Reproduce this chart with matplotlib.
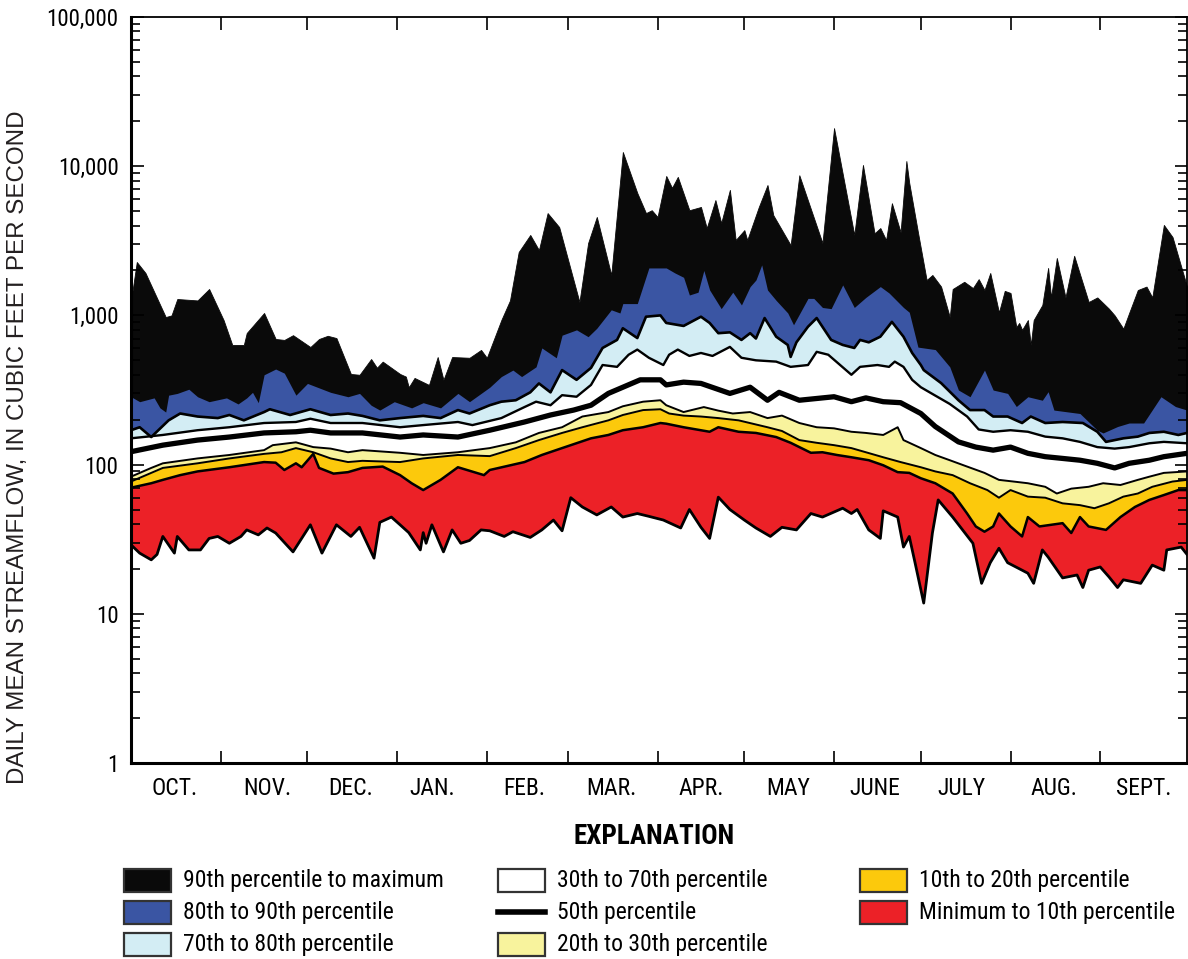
import matplotlib
matplotlib.use("Agg")
import matplotlib.pyplot as plt
import matplotlib.ticker as ticker
from matplotlib.patches import Rectangle
from matplotlib.lines import Line2D

plt.rcParams['font.family'] = ['Roboto Condensed', 'Liberation Sans Narrow', 'Roboto', 'DejaVu Sans']

# Daily streamflow percentiles, day of water year (0 = Oct 1) and cfs
max_day = [0, 2, 5, 12, 14, 16, 23, 27, 32, 35, 39, 40, 46, 50, 53, 56, 62, 65, 68, 71,
           76, 79, 83, 85, 87, 93, 95, 96, 98, 103, 106, 108, 111, 117, 121, 123, 128, 131, 134, 138,
           141, 144, 148, 155, 158, 161, 166, 170, 175, 178, 180, 182, 185, 187, 189, 193, 197, 199, 202, 204,
           207, 209, 212, 213, 217, 220, 222, 228, 231, 239, 243, 250, 253, 257, 259, 261, 263, 266, 268, 269,
           272, 275, 277, 280, 283, 284, 288, 291, 293, 295, 297, 300, 302, 304, 306, 307, 308, 310, 311, 312,
           315, 317, 318, 320, 323, 326, 331, 334, 338, 340, 343, 345, 348, 351, 353, 357, 360, 365]
max_cfs = [1250, 2280, 1925, 975, 1000, 1288, 1260, 1503, 931, 634, 634, 762, 1038, 695, 685, 737, 614, 695, 730, 705,
           405, 400, 510, 446, 490, 405, 389, 330, 381, 342, 526, 370, 526, 520, 587, 520, 931, 1260, 2660, 3460,
           2740, 4850, 3910, 1230, 3055, 4570, 1866, 12450, 6610, 4850, 5070, 4570, 8600, 7160, 8480, 5070, 5330, 3850, 5930, 4160,
           6940, 3200, 3730, 3200, 5330, 7480, 4700, 2960, 8700, 3055, 18000, 3460, 10190, 3550, 3850, 3200, 5650, 3610, 10830, 7710,
           3610, 1727, 1866, 1560, 975, 1503, 1680, 1525, 1750, 1480, 1925, 1047, 1460, 1414, 836, 890, 800, 931, 634, 931,
           1175, 2080, 1320, 2425, 1320, 2510, 1230, 1320, 1110, 1000, 815, 1038, 1480, 1560, 1320, 4040, 3350, 1560]

p90_day = [0, 3, 8, 10, 12, 13, 16, 20, 23, 27, 33, 37, 40, 42, 44, 46, 50, 53, 57, 61,
           69, 75, 79, 83, 86, 91, 97, 101, 107, 113, 117, 124, 128, 132, 135, 140, 142, 147, 149, 154,
           158, 161, 166, 169, 170, 175, 179, 185, 188, 191, 193, 196, 198, 200, 204, 208, 211, 214, 216, 218,
           220, 223, 227, 229, 234, 236, 239, 242, 246, 250, 254, 259, 262, 267, 269, 272, 278, 283, 286, 290,
           295, 298, 303, 306, 310, 315, 317, 319, 328, 334, 336, 341, 345, 350, 356, 361, 365]
p90_cfs = [285, 264, 280, 240, 225, 292, 300, 320, 285, 264, 280, 255, 280, 305, 260, 400, 437, 410, 292, 350,
           305, 285, 300, 250, 232, 264, 240, 260, 240, 300, 264, 330, 389, 430, 389, 452, 605, 520, 737, 800,
           720, 820, 1090, 1038, 1200, 1200, 2080, 2080, 1925, 1800, 1370, 1430, 2000, 1480, 1110, 1430, 1175, 1560, 1727, 2180,
           1480, 1260, 1038, 865, 1300, 1300, 1130, 1110, 1600, 1130, 1320, 1560, 1414, 1130, 1050, 613, 590, 452, 316, 285,
           430, 316, 300, 245, 285, 270, 308, 232, 220, 170, 163, 180, 190, 190, 285, 245, 232]

p80_day = [0, 3, 7, 13, 17, 23, 30, 34, 39, 46, 48, 55, 62, 69, 75, 80, 86, 93, 101, 107,
           113, 117, 124, 128, 133, 138, 141, 145, 149, 154, 159, 163, 168, 170, 175, 178, 183, 185, 191, 197,
           200, 203, 207, 211, 214, 216, 219, 223, 227, 228, 230, 234, 237, 242, 246, 250, 252, 255, 259, 263,
           267, 270, 273, 274, 280, 286, 290, 295, 298, 303, 308, 311, 316, 322, 329, 334, 337, 343, 348, 352,
           357, 362, 365]
p80_cfs = [170, 178, 153, 198, 220, 210, 205, 215, 198, 225, 235, 215, 235, 215, 220, 212, 198, 205, 212, 205,
           232, 220, 250, 264, 270, 305, 350, 305, 430, 370, 445, 605, 685, 820, 705, 980, 1000, 890, 850, 980,
           890, 760, 770, 685, 760, 700, 960, 720, 634, 527, 660, 840, 960, 685, 634, 605, 685, 660, 720, 905,
           720, 560, 465, 430, 352, 270, 232, 232, 210, 210, 190, 210, 190, 193, 190, 166, 142, 150, 154, 163,
           166, 158, 163]

p70_day = [0, 11, 23, 34, 46, 57, 62, 69, 80, 93, 101, 113, 118, 128, 136, 140, 145, 149, 154, 159,
           163, 168, 172, 175, 179, 184, 186, 189, 193, 197, 201, 207, 211, 216, 223, 228, 234, 237, 241, 249,
           252, 258, 262, 264, 267, 270, 273, 278, 283, 289, 293, 298, 304, 310, 316, 322, 328, 334, 340, 345,
           352, 357, 365]
p70_cfs = [150, 158, 170, 178, 190, 193, 203, 190, 190, 178, 184, 193, 184, 205, 243, 264, 250, 292, 285, 342,
           465, 452, 545, 590, 520, 465, 545, 590, 535, 560, 535, 615, 520, 500, 490, 452, 465, 570, 545, 400,
           452, 465, 452, 490, 452, 370, 330, 290, 255, 210, 172, 166, 170, 166, 154, 150, 142, 131, 128, 131,
           139, 142, 139]

p50_day = [0, 11, 23, 34, 46, 57, 62, 69, 80, 93, 101, 113, 124, 136, 145, 153, 159, 165, 170, 176,
           183, 185, 191, 197, 207, 214, 220, 224, 231, 243, 249, 254, 260, 266, 273, 278, 286, 292, 298, 304,
           310, 316, 322, 328, 334, 340, 345, 352, 357, 365]
p50_cfs = [122, 135, 146, 153, 163, 166, 170, 163, 163, 153, 158, 153, 170, 193, 215, 232, 250, 300, 330, 370,
           370, 342, 357, 350, 300, 330, 270, 305, 270, 285, 264, 280, 264, 260, 220, 180, 142, 131, 125, 131,
           119, 113, 110, 107, 102, 95, 102, 107, 113, 119]

p30_day = [0, 7, 11, 23, 34, 46, 49, 57, 63, 69, 75, 80, 93, 101, 113, 124, 133, 141, 149, 156,
           165, 170, 177, 183, 185, 191, 198, 203, 208, 214, 220, 225, 231, 237, 243, 249, 254, 260, 265, 267,
           273, 278, 283, 289, 295, 300, 305, 310, 316, 320, 325, 331, 336, 342, 348, 352, 357, 365]
p30_cfs = [83, 95, 102, 110, 116, 125, 135, 141, 131, 128, 121, 125, 120, 116, 121, 129, 141, 163, 178, 210,
           225, 246, 264, 270, 250, 225, 243, 230, 220, 225, 205, 213, 190, 178, 175, 166, 163, 158, 178, 146,
           129, 116, 107, 97, 88, 79, 77, 75, 71, 64, 69, 71, 75, 73, 79, 83, 88, 90]

p20_day = [0, 7, 11, 23, 34, 46, 52, 57, 63, 69, 75, 80, 93, 101, 113, 124, 133, 141, 149, 156,
           165, 170, 177, 183, 186, 191, 197, 203, 210, 220, 225, 231, 237, 243, 249, 254, 260, 266, 273, 278,
           284, 290, 296, 300, 304, 310, 316, 322, 328, 333, 338, 343, 348, 353, 360, 365]
p20_cfs = [77, 88, 95, 102, 110, 118, 121, 129, 121, 110, 104, 106, 104, 110, 116, 114, 129, 146, 163, 178,
           198, 215, 232, 235, 220, 213, 210, 205, 198, 178, 168, 146, 140, 135, 129, 121, 112, 104, 96, 90,
           85, 75, 67.5, 60, 67.5, 61, 60, 55, 53.5, 51, 55, 61, 64, 71, 77, 79]

p10_day = [0, 7, 11, 17, 23, 34, 46, 50, 53, 57, 59, 63, 65, 70, 75, 80, 87, 93, 97, 101,
           107, 113, 122, 124, 136, 142, 149, 159, 165, 170, 177, 183, 185, 191, 200, 203, 210, 216, 223, 228,
           235, 239, 244, 249, 255, 260, 265, 269, 273, 278, 284, 289, 292, 295, 298, 300, 304, 308, 310, 314,
           322, 325, 328, 331, 337, 342, 347, 352, 357, 362, 365]
p10_cfs = [70, 75, 79, 85, 90, 96, 104, 103, 92, 102, 96, 118, 95, 87, 89, 95, 97, 85, 75, 67.5,
           79, 96, 85, 92, 104, 116, 129, 150, 158, 170, 178, 190, 188, 178, 166, 178, 166, 163, 153, 140,
           120, 121, 116, 112, 107, 99, 89, 88, 81, 75, 64, 47, 38.5, 35.5, 38.5, 47, 38.5, 33, 44.5, 38.5,
           40.5, 34.8, 44.5, 38.5, 36.5, 44.5, 52, 58, 62.5, 67.5, 67.5]

min_day = [0, 3, 7, 9, 11, 15, 16, 20, 24, 27, 30, 34, 38, 40, 44, 47, 50, 56, 62, 66,
           71, 76, 79, 84, 86, 90, 93, 96, 100, 101, 102, 104, 108, 111, 114, 117, 121, 124, 129, 132,
           138, 142, 146, 149, 152, 156, 161, 166, 170, 175, 179, 184, 190, 193, 197, 200, 203, 207, 212, 216,
           221, 225, 230, 235, 239, 246, 249, 251, 255, 259, 260, 265, 267, 269, 271, 274, 277, 279, 284, 291,
           294, 297, 300, 303, 308, 310, 312, 315, 317, 322, 327, 329, 331, 335, 338, 341, 343, 349, 353, 357,
           358, 363, 365]
min_cfs = [29, 25.5, 23, 25, 33, 25.5, 33, 26.8, 26.8, 32, 33, 29.7, 33, 36.5, 33.8, 37.6, 34.8, 26, 39.5, 25.5,
           39.5, 33, 38, 23.6, 41, 44.5, 39.5, 35, 26.8, 35, 29.7, 39.5, 26, 36.5, 29.7, 31, 36.5, 36, 33, 35.5,
           32.5, 36.5, 42.5, 36, 60, 52, 46, 52, 44.5, 47, 45, 42.5, 37.6, 50, 38, 32, 60.5, 50, 42.5, 37.6,
           33, 38, 36.5, 47, 44.5, 51, 47, 50, 36.5, 32, 49, 44.5, 28, 33, 22, 11.8, 34.8, 58, 44.5, 29.7,
           16, 22, 27.5, 22, 19.6, 18.7, 16, 26.8, 24, 17.4, 18.2, 15, 19.6, 20.6, 17.7, 15, 16.9, 16, 21.2, 19.6,
           26.8, 28, 25]

month_edges = [31, 61, 92, 123, 151, 182, 212, 243, 273, 304, 335]
month_pos = [15, 47, 76, 104, 136, 166, 197, 227, 257, 287, 319, 350]
month_labels = ['OCT.', 'NOV.', 'DEC.', 'JAN.', 'FEB.', 'MAR.', 'APR.', 'MAY', 'JUNE', 'JULY', 'AUG.', 'SEPT.']

c_black = '#0a0a0a'
c_blue = '#3a55a3'
c_ltblue = '#d3edf4'
c_yellow = '#f8f39d'
c_gold = '#fcc90c'
c_red = '#ec2127'

W, H = 1188, 959
fig = plt.figure(figsize=(W / 100, H / 100), dpi=100)
ax = fig.add_axes([131 / W, 1 - 763 / H, (1187 - 131) / W, (763 - 17) / H])

# bands painted top-down to a floor below the axis
layers = [(max_day, max_cfs, c_black), (p90_day, p90_cfs, c_blue), (p80_day, p80_cfs, c_ltblue),
          (p70_day, p70_cfs, 'white'), (p30_day, p30_cfs, c_yellow), (p20_day, p20_cfs, c_gold),
          (p10_day, p10_cfs, c_red), (min_day, min_cfs, 'white')]
for d, v, c in layers:
    ax.fill_between(d, v, 0.5, color=c, lw=0.6 if c == c_black else 0, edgecolor=c)

ax.plot(p80_day, p80_cfs, color='k', lw=1.9)
ax.plot(p70_day, p70_cfs, color='k', lw=1.7)
ax.plot(p50_day, p50_cfs, color='k', lw=3.8)
ax.plot(p30_day, p30_cfs, color='k', lw=1.4)
ax.plot(p20_day, p20_cfs, color='k', lw=1.4)
ax.plot(p10_day, p10_cfs, color='k', lw=1.8)
ax.plot(min_day, min_cfs, color='k', lw=2.0)

ax.set_yscale('log')
ax.set_ylim(1, 100000)
ax.set_xlim(0, 365)

ax.yaxis.set_major_locator(ticker.LogLocator(base=10, numticks=10))
ax.yaxis.set_minor_locator(ticker.LogLocator(base=10, subs=range(2, 10), numticks=20))
ax.yaxis.set_major_formatter(ticker.FuncFormatter(lambda v, _: f'{v:,.0f}'))
ax.yaxis.set_minor_formatter(ticker.NullFormatter())
ax.tick_params(axis='y', which='both', direction='in', left=True, right=True, width=1.2, labelsize=16.5, pad=9)
ax.tick_params(axis='y', which='major', length=9)
ax.tick_params(axis='y', which='minor', length=6.5)

ax.set_xticks(month_edges)
ax.set_xticklabels([])
ax.set_xticks(month_pos, minor=True)
ax.set_xticklabels(month_labels, minor=True)
ax.tick_params(axis='x', which='major', direction='in', top=True, bottom=True, length=9, width=1.2)
ax.tick_params(axis='x', which='minor', length=0, labelsize=17, pad=10)

for s in ['left', 'bottom']:
    ax.spines[s].set_linewidth(2.2)
for s in ['top', 'right']:
    ax.spines[s].set_linewidth(1.3)

fig.text(18 / W, 1 - 447 / H, 'DAILY MEAN STREAMFLOW, IN CUBIC FEET PER SECOND', rotation=90,
         ha='center', va='center', fontsize=17.4, family=['Liberation Sans', 'DejaVu Sans'], color='#231f20')

# explanation block
fig.text(654 / W, 1 - 837 / H, 'EXPLANATION', ha='center', va='center', fontsize=19.5, fontweight='bold')

entries = [
    (124, 880, c_black, '90th percentile to maximum'),
    (124, 912, c_blue, '80th to 90th percentile'),
    (124, 944, c_ltblue, '70th to 80th percentile'),
    (498, 880, 'white', '30th to 70th percentile'),
    (498, 912, None, '50th percentile'),
    (498, 944, c_yellow, '20th to 30th percentile'),
    (860, 880, c_gold, '10th to 20th percentile'),
    (860, 912, c_red, 'Minimum to 10th percentile'),
]
bw, bh = 47, 23
for x0, yc, col, label in entries:
    if col is None:
        fig.add_artist(Line2D([x0 / W, (x0 + bw) / W], [1 - yc / H, 1 - yc / H], color='k', lw=4,
                              transform=fig.transFigure))
    else:
        fig.add_artist(Rectangle((x0 / W, 1 - (yc + bh / 2) / H), bw / W, bh / H, facecolor=col,
                                 edgecolor='#333333', lw=1.6, transform=fig.transFigure))
    fig.text((x0 + bw + 12) / W, 1 - yc / H, label, ha='left', va='center', fontsize=17)

fig.savefig('out.png', dpi=100)
